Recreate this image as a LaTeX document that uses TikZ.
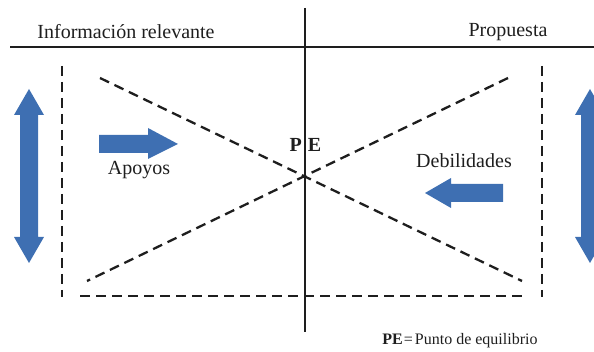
\documentclass[tikz,border=0pt]{standalone}
\usepackage{fontspec}
\setmainfont{Liberation Serif}
\definecolor{arrowblue}{RGB}{62,111,178}
\definecolor{ink}{RGB}{30,30,30}
\begin{document}
\begin{tikzpicture}[x=1pt,y=-1pt,
  axis/.style={draw=ink,line width=2pt},
  guide/.style={draw=ink,line width=2.3pt,dash pattern=on 10pt off 6pt},
  bluearrow/.style={fill=arrowblue,draw=none},
  label/.style={text=ink,font=\fontsize{20}{22}\selectfont,inner sep=0pt}]
\useasboundingbox (0,0) rectangle (594,352);

% axes
\coordinate (hL) at (10,47.5);
\coordinate (hR) at (594,47.5);
\coordinate (vT) at (305,8);
\coordinate (vB) at (305,332);
\draw[axis] (hL) -- (hR);
\draw[axis] (vT) -- (vB);

% headings
\node[label] (info) at (126,32) {Información relevante};
\node[label] (prop) at (508,32) {Propuesta};

% dashed frame (open at the top)
\coordinate (fTL) at (62,66);
\coordinate (fBL) at (62,297);
\coordinate (fTR) at (542,66);
\coordinate (fBR) at (542,297);
\coordinate (bL) at (80,296);
\coordinate (bR) at (524,296);
\draw[guide] (fTL) -- (fBL);
\draw[guide] (fTR) -- (fBR);
\draw[guide] (bL) -- (bR);

% crossing diagonals through the equilibrium point
\coordinate (dA1) at (100,78);
\coordinate (dA2) at (522,281);
\coordinate (dB1) at (508,78);
\coordinate (dB2) at (87,281);
\draw[guide] (dA1) -- (dA2);
\draw[guide] (dB1) -- (dB2);

\node[text=ink,font=\fontsize{20}{22}\selectfont\bfseries,inner sep=0pt] (pe) at (305.5,145) {P\kern6pt E};

% horizontal arrows
\fill[bluearrow] (99,135) -- (148,135) -- (148,128) -- (178,144) -- (148,159) -- (148,153) -- (99,153) -- cycle;
\node[label] (apoyos) at (139,170) {Apoyos};
\fill[bluearrow] (503,184) -- (451,184) -- (451,178) -- (425,193) -- (451,208) -- (451,202) -- (503,202) -- cycle;
\node[label] (debil) at (464,161) {Debilidades};

% vertical double arrows at the sides
\fill[bluearrow] (29,89) -- (44,115) -- (38,115) -- (38,237) -- (44,237) -- (29,263) -- (14,237) -- (20,237) -- (20,115) -- (14,115) -- cycle;
\fill[bluearrow] (590,89) -- (605,115) -- (599,115) -- (599,237) -- (605,237) -- (590,263) -- (575,237) -- (581,237) -- (581,115) -- (575,115) -- cycle;

% legend
\node[text=ink,font=\fontsize{16}{18}\selectfont,inner sep=0pt] (legend) at (460,341) {\textbf{PE}\kern1pt=\kern2pt Punto de equilibrio};
\end{tikzpicture}
\end{document}
